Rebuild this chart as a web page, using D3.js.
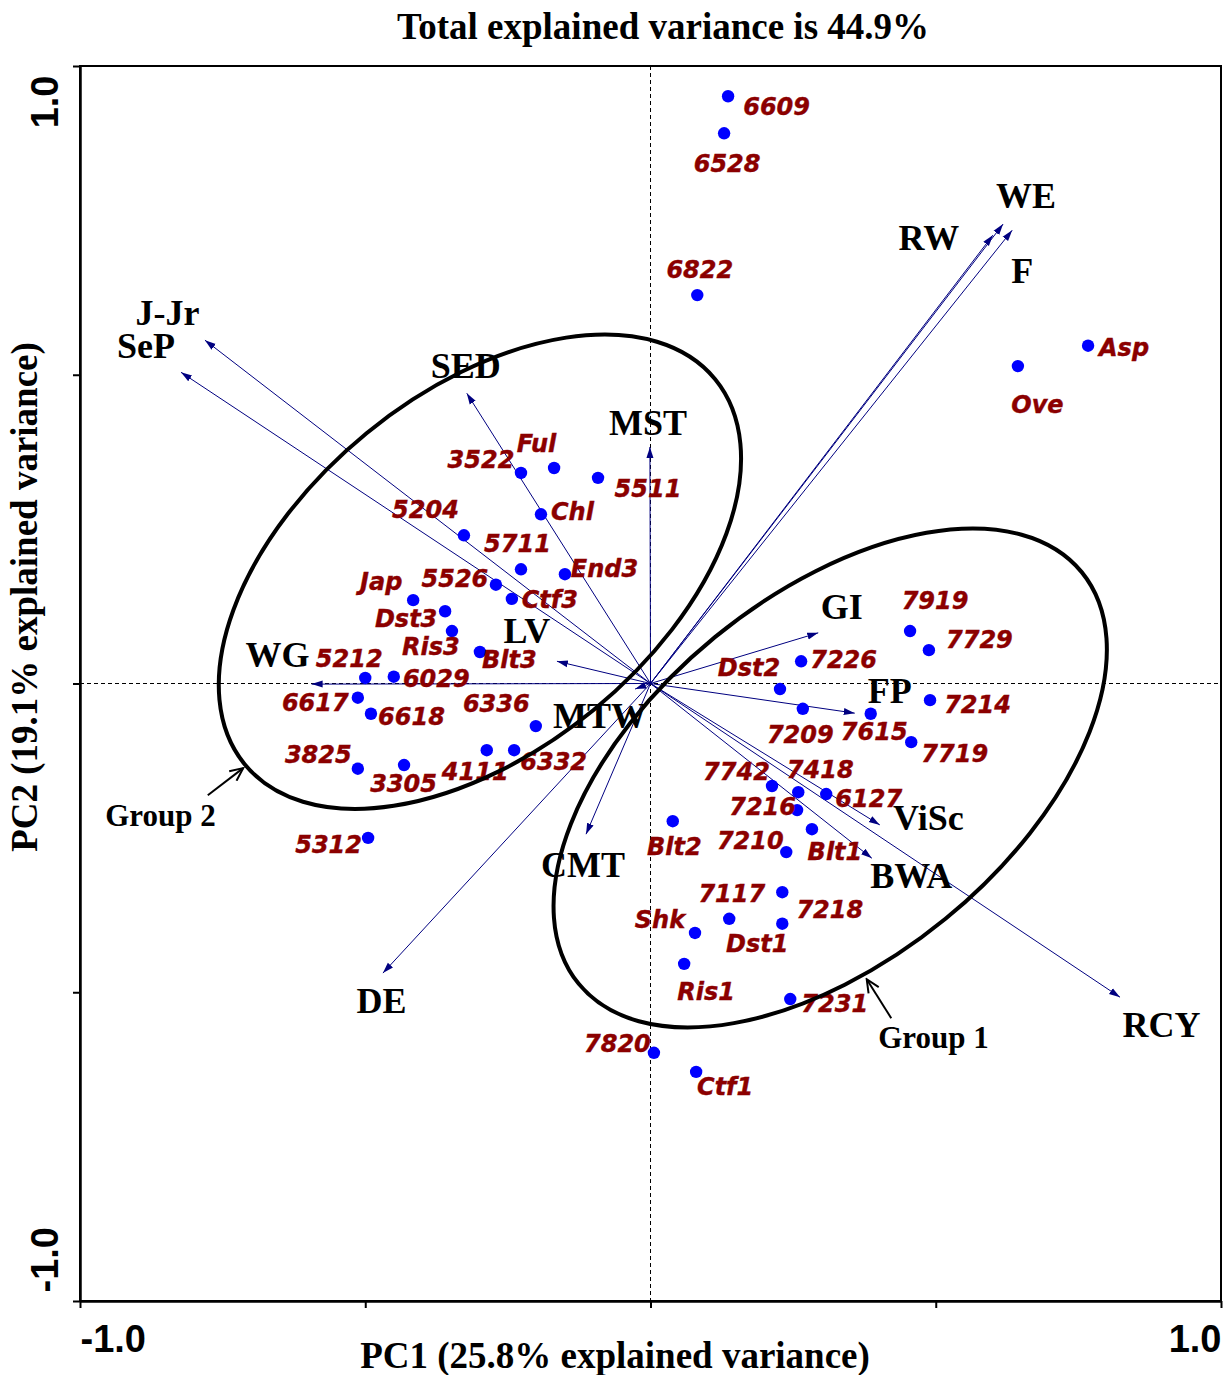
<!DOCTYPE html>
<html>
<head>
<meta charset="utf-8">
<script src="https://cdn.jsdelivr.net/npm/d3@7"></script>
<style>
	body { margin: 0; background: #ffffff; }
	svg { display: block; }
</style>
</head>
<body>
<div id="plot"></div>
<script>
// genotype scores on the first two components
let genotypes = ["6609", "6528", "6822", "Asp", "Ove", "3522", "Ful", "5511", "Chl", "5204", "5711", "End3", "5526", "Ctf3", "Jap", "Dst3", "Ris3", "Blt3", "5212", "6029", "6617", "6618", "6336", "3825", "3305", "4111", "6332", "5312", "7919", "7729", "7226", "Dst2", "7214", "7209", "7615", "7719", "7742", "7418", "6127", "7216", "Blt2", "Blt1", "7210", "7117", "Dst1", "7218", "Shk", "Ris1", "7231", "7820", "Ctf1"];
let pc1 = [0.136, 0.129, 0.082, 0.767, 0.644, -0.227, -0.169, -0.092, -0.192, -0.327, -0.227, -0.150, -0.271, -0.243, -0.416, -0.360, -0.348, -0.299, -0.500, -0.450, -0.513, -0.490, -0.201, -0.513, -0.432, -0.287, -0.239, -0.495, 0.455, 0.488, 0.264, 0.227, 0.490, 0.267, 0.386, 0.457, 0.213, 0.259, 0.308, 0.257, 0.039, 0.283, 0.238, 0.231, 0.138, 0.231, 0.078, 0.059, 0.245, 0.006, 0.080];
let pc2 = [0.951, 0.891, 0.629, 0.547, 0.514, 0.341, 0.349, 0.333, 0.274, 0.240, 0.185, 0.177, 0.160, 0.137, 0.135, 0.117, 0.085, 0.051, 0.009, 0.011, -0.023, -0.049, -0.069, -0.138, -0.132, -0.108, -0.108, -0.250, 0.085, 0.054, 0.036, -0.009, -0.027, -0.041, -0.049, -0.095, -0.166, -0.176, -0.179, -0.205, -0.223, -0.236, -0.273, -0.338, -0.381, -0.389, -0.404, -0.454, -0.511, -0.598, -0.629];

// trait loadings (vectors)
let traits = ["J-Jr", "SeP", "SED", "MST", "RW", "WE", "F", "GI", "FP", "LV", "WG", "MTW", "CMT", "ViSc", "BWA", "DE", "RCY"];
let traitPc1 = [-0.781, -0.823, -0.322, -0.001, 0.600, 0.618, 0.634, 0.294, 0.358, -0.164, -0.594, -0.027, -0.113, 0.402, 0.388, -0.469, 0.823];
let traitPc2 = [0.556, 0.504, 0.470, 0.383, 0.726, 0.744, 0.734, 0.082, -0.048, 0.036, -0.001, -0.009, -0.244, -0.229, -0.283, -0.469, -0.508];

let tickValues = [-1, -0.5, 0, 0.5, 1];
let tickLabels = ["-1.0", "", "", "", "1.0"];

let title = "Total explained variance is 44.9%";
let xTitle = "PC1 (25.8% explained variance)";
let yTitle = "PC2 (19.1% explained variance)";

// label placement (pixel offsets from the mark)
let genoLabelOffset = [[48.5, 19], [3, 39], [2.5, -17], [36, 10], [19.5, 47], [-40, -5], [-17.5, -16], [50, 19], [31.5, 6], [-38.5, -17], [-3.5, -17], [39.5, 3], [-41, 2], [38, 9], [-32, -10], [-39, 16], [-21, 24], [29.5, 16], [-16, -11], [42.5, 10], [-42.5, 13], [40.5, 11], [-39.5, -14], [-39.5, -6], [-0.5, 27], [-11.5, 30], [39.5, 20], [-39.5, 15], [25, -22], [50.5, -2], [42.5, 7], [-31, -13], [47.5, 13], [-2.5, 34], [3.5, 26], [43.5, 20], [-35.5, -6], [22, -14], [42.5, 13], [-34.5, 5], [1.5, 34], [23, 31], [-36, -3], [-50.5, 10], [28, 33], [47.5, -6], [-35, -5], [22, 36], [44.5, 13], [-36.5, -1], [29, 23]];
let traitLabelOffset = [[-37.5, -15], [-35, -14], [-1, -15], [-2, -12], [-64, 15], [23, -16], [10, 53], [23.5, -14], [35, -10], [-30, -18], [-34, -17], [-35, 39], [-3, 43], [48.5, 5], [39.5, 30], [-1.5, 40], [41.5, 40]];

// group ellipses and their callouts
let groups = [
	{ name: "Group 2", cx: -0.299, cy: 0.181, rx: 304, ry: 179, angle: -39.3, lx: -0.859, ly: -0.231, ax1: -0.776, ay1: -0.181, ax2: -0.714, ay2: -0.137 },
	{ name: "Group 1", cx: 0.315, cy: -0.153, rx: 325, ry: 182, angle: -39.3, lx: 0.496, ly: -0.590, ax1: 0.422, ay1: -0.542, ax2: 0.379, ay2: -0.479 }
];

let margin = {
	top: 66,
	right: 2,
	bottom: 74,
	left: 80
};

let width = 1223 - margin.left - margin.right,
	height = 1375 - margin.top - margin.bottom;

let serif = "'Liberation Serif', 'Times New Roman', serif",
	sans = "'Liberation Sans', Arial, sans-serif";

let root = d3.select('#plot').append('svg')
	.attr('width', 1223)
	.attr('height', 1375);

let svg = root.append('g')
	.attr('transform', 'translate(' + margin.left + ',' + margin.top + ')');

let x = d3.scaleLinear().domain([-1, 1]).range([0, width]);
let y = d3.scaleLinear().domain([-1, 1]).range([height, 0]);

let defs = root.append('defs');
defs.append('marker')
	.attr('id', 'vec')
	.attr('markerUnits', 'userSpaceOnUse')
	.attr('viewBox', '0 -5 12 10')
	.attr('refX', 11)
	.attr('refY', 0)
	.attr('markerWidth', 12)
	.attr('markerHeight', 10)
	.attr('orient', 'auto')
	.append('path')
	.attr('d', 'M0,-3.5L11,0L0,3.5Z')
	.attr('fill', '#000080');

defs.append('marker')
	.attr('id', 'callout')
	.attr('markerUnits', 'userSpaceOnUse')
	.attr('viewBox', '-1 -7 16 14')
	.attr('refX', 13)
	.attr('refY', 0)
	.attr('markerWidth', 16)
	.attr('markerHeight', 14)
	.attr('orient', 'auto')
	.append('path')
	.attr('d', 'M0,-6L13,0L0,6')
	.attr('fill', 'none')
	.attr('stroke', '#000')
	.attr('stroke-width', 2);

// frame
svg.append('rect')
	.attr('width', width)
	.attr('height', height)
	.attr('fill', 'none')
	.attr('stroke', '#000')
	.attr('stroke-width', 2);

// zero lines
svg.append('line')
	.attr('x1', 0).attr('x2', width)
	.attr('y1', y(0)).attr('y2', y(0))
	.attr('stroke', '#000').attr('stroke-width', 1)
	.attr('stroke-dasharray', '4,3');

svg.append('line')
	.attr('x1', x(0)).attr('x2', x(0))
	.attr('y1', 0).attr('y2', height)
	.attr('stroke', '#000').attr('stroke-width', 1)
	.attr('stroke-dasharray', '4,3');

// axes
let xAxis = d3.axisBottom(x)
	.tickValues(tickValues)
	.tickSize(7)
	.tickSizeOuter(0)
	.tickFormat(function(d, i) {
		return tickLabels[i];
	});

let yAxis = d3.axisLeft(y)
	.tickValues(tickValues)
	.tickSize(7)
	.tickSizeOuter(0)
	.tickFormat(function(d, i) {
		return tickLabels[i];
	});

let gx = svg.append('g')
	.attr('transform', 'translate(0,' + height + ')')
	.call(xAxis);

let gy = svg.append('g')
	.call(yAxis);

[gx, gy].forEach(function(g) {
	g.attr('font-family', sans)
		.attr('font-size', 38)
		.attr('font-weight', 'bold');
	g.select('.domain').attr('stroke-width', 2.5);
	g.selectAll('.tick line').attr('stroke-width', 2);
	g.selectAll('.tick text').attr('fill', '#000');
});

gx.selectAll('.tick text')
	.attr('y', 51)
	.attr('dy', null)
	.attr('text-anchor', function(d) {
		return d < 0 ? 'start' : 'end';
	});

gy.selectAll('.tick text')
	.attr('x', 0)
	.attr('dy', null)
	.attr('transform', 'translate(-22,0) rotate(-90)')
	.attr('text-anchor', function(d) {
		return d < 0 ? 'start' : 'end';
	})
	.attr('dx', function(d) {
		return d < 0 ? 9 : -9;
	});

// titles
root.append('text')
	.attr('x', 663)
	.attr('y', 39)
	.attr('text-anchor', 'middle')
	.attr('font-family', serif)
	.attr('font-weight', 'bold')
	.attr('font-size', 37)
	.text(title);

root.append('text')
	.attr('x', 615)
	.attr('y', 1368)
	.attr('text-anchor', 'middle')
	.attr('font-family', serif)
	.attr('font-weight', 'bold')
	.attr('font-size', 37)
	.text(xTitle);

root.append('text')
	.attr('transform', 'translate(37,597) rotate(-90)')
	.attr('text-anchor', 'middle')
	.attr('font-family', serif)
	.attr('font-weight', 'bold')
	.attr('font-size', 37)
	.text(yTitle);

// trait vectors
let vectors = traits.map(function(t, i) {
	return { name: t, x: traitPc1[i], y: traitPc2[i], off: traitLabelOffset[i] };
});

svg.selectAll('.vec')
	.data(vectors)
	.enter().append('line').classed('vec', true)
	.attr('x1', x(0))
	.attr('y1', y(0))
	.attr('x2', function(d) { return x(d.x) })
	.attr('y2', function(d) { return y(d.y) })
	.attr('stroke', '#000080')
	.attr('stroke-width', 1)
	.attr('marker-end', 'url(#vec)');

// genotype points
let points = genotypes.map(function(g, i) {
	return { name: g, x: pc1[i], y: pc2[i], off: genoLabelOffset[i] };
});

svg.selectAll('.circ')
	.data(points)
	.enter().append('circle').classed('circ', true)
	.attr('cx', function(d) { return x(d.x) })
	.attr('cy', function(d) { return y(d.y) })
	.attr('r', 6.2)
	.attr('fill', '#0000ff');

svg.selectAll('.geno')
	.data(points)
	.enter().append('text').classed('geno', true)
	.attr('x', function(d) { return x(d.x) + d.off[0] })
	.attr('y', function(d) { return y(d.y) + d.off[1] })
	.attr('text-anchor', 'middle')
	.attr('font-family', "'DejaVu Sans', Verdana, sans-serif")
	.attr('font-weight', 'bold')
	.attr('font-style', 'italic')
	.attr('font-size', 24)
	.attr('fill', '#8b0000')
	.attr('stroke', '#8b0000')
	.attr('stroke-width', 0.4)
	.text(function(d) { return d.name });

svg.selectAll('.trait')
	.data(vectors)
	.enter().append('text').classed('trait', true)
	.attr('x', function(d) { return x(d.x) + d.off[0] })
	.attr('y', function(d) { return y(d.y) + d.off[1] })
	.attr('text-anchor', 'middle')
	.attr('font-family', serif)
	.attr('font-weight', 'bold')
	.attr('font-size', 36)
	.attr('fill', '#000')
	.text(function(d) { return d.name });

// group ellipses
svg.selectAll('.grp')
	.data(groups)
	.enter().append('ellipse').classed('grp', true)
	.attr('transform', function(d) {
		return 'translate(' + x(d.cx) + ',' + y(d.cy) + ') rotate(' + d.angle + ')';
	})
	.attr('rx', function(d) { return d.rx })
	.attr('ry', function(d) { return d.ry })
	.attr('fill', 'none')
	.attr('stroke', '#000')
	.attr('stroke-width', 4);

svg.selectAll('.grp-arrow')
	.data(groups)
	.enter().append('line').classed('grp-arrow', true)
	.attr('x1', function(d) { return x(d.ax1) })
	.attr('y1', function(d) { return y(d.ay1) })
	.attr('x2', function(d) { return x(d.ax2) })
	.attr('y2', function(d) { return y(d.ay2) })
	.attr('stroke', '#000')
	.attr('stroke-width', 2)
	.attr('marker-end', 'url(#callout)');

svg.selectAll('.grp-label')
	.data(groups)
	.enter().append('text').classed('grp-label', true)
	.attr('x', function(d) { return x(d.lx) })
	.attr('y', function(d) { return y(d.ly) })
	.attr('text-anchor', 'middle')
	.attr('font-family', serif)
	.attr('font-weight', 'bold')
	.attr('font-size', 31)
	.text(function(d) { return d.name });
</script>
</body>
</html>
